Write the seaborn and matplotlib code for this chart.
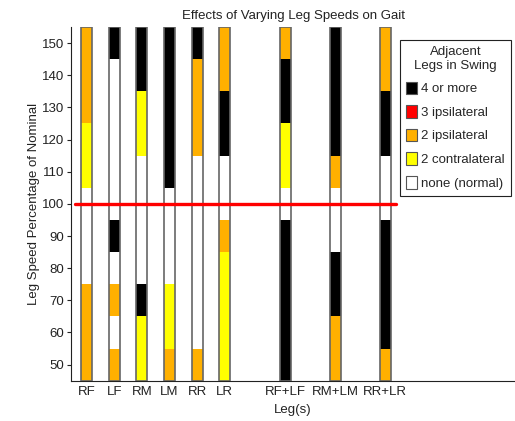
import matplotlib
matplotlib.use('Agg')
import matplotlib.pyplot as plt
import seaborn as sns
from matplotlib.patches import Patch

# Datos: cortes de velocidad (% del nominal) y tipo de marcha por segmento
legs = ['RF', 'LF', 'RM', 'LM', 'RR', 'LR', 'RF+LF', 'RM+LM', 'RR+LR']
x_pos = [1, 2, 3, 4, 5, 6, 8.2, 10, 11.8]

RF_breaks = [45, 75, 105, 125, 155]
RF_gait = ['2i', 'none', '2c', '2i']
LF_breaks = [45, 55, 65, 75, 85, 95, 145, 155]
LF_gait = ['2i', 'none', '2i', 'none', '4+', 'none', '4+']
RM_breaks = [45, 65, 75, 115, 135, 155]
RM_gait = ['2c', '4+', 'none', '2c', '4+']
LM_breaks = [45, 55, 75, 105, 155]
LM_gait = ['2i', '2c', 'none', '4+']
RR_breaks = [45, 55, 115, 145, 155]
RR_gait = ['2i', 'none', '2i', '4+']
LR_breaks = [45, 85, 95, 115, 135, 155]
LR_gait = ['2c', '2i', 'none', '4+', '2i']
RFLF_breaks = [45, 95, 105, 125, 145, 155]
RFLF_gait = ['4+', 'none', '2c', '4+', '2i']
RMLM_breaks = [45, 65, 85, 105, 115, 155]
RMLM_gait = ['2i', '4+', 'none', '2i', '4+']
RRLR_breaks = [45, 55, 95, 115, 135, 155]
RRLR_gait = ['2i', '4+', 'none', '4+', '2i']

all_breaks = [RF_breaks, LF_breaks, RM_breaks, LM_breaks, RR_breaks,
              LR_breaks, RFLF_breaks, RMLM_breaks, RRLR_breaks]
all_gait = [RF_gait, LF_gait, RM_gait, LM_gait, RR_gait,
            LR_gait, RFLF_gait, RMLM_gait, RRLR_gait]

gait_keys = ['4+', '3i', '2i', '2c', 'none']
gait_labels = ['4 or more', '3 ipsilateral', '2 ipsilateral',
               '2 contralateral', 'none (normal)']
gait_colors = {'4+': '#000000', '3i': '#ff0000', '2i': '#ffb000',
               '2c': '#ffff00', 'none': '#ffffff'}
nominal = 100

sns.set_theme(style="white")
plt.rcParams['font.family'] = ['Liberation Sans', 'DejaVu Sans']

fig = plt.figure(figsize=(5.15, 4.21), dpi=100)
ax = fig.add_axes([71 / 515, 40.3 / 421, 444 / 515, 353.7 / 421])

width = 0.4
for x, brk, gait in zip(x_pos, all_breaks, all_gait):
    for lo, hi, g in zip(brk[:-1], brk[1:], gait):
        ax.bar(x, hi - lo, bottom=lo, width=width, color=gait_colors[g],
               edgecolor='none', linewidth=0, zorder=2)
    ax.bar(x, brk[-1] - brk[0], bottom=brk[0], width=width, color='none',
           edgecolor='#666666', linewidth=1.2, zorder=3)

ax.plot([0.6, 12.2], [nominal, nominal], color='#ff0000', linewidth=2.4,
        zorder=4)

ax.set_xlim(0.44, 16.5)
ax.set_ylim(45, 155)
ax.set_yticks(range(50, 151, 10))
ax.set_xticks(x_pos)
ax.set_xticklabels(legs)
ax.tick_params(axis='x', length=0, pad=4, labelsize=9.5, colors='#222222')
ax.tick_params(axis='y', length=3, width=0.8, direction='out', pad=2,
               labelsize=9.5, colors='#222222', left=True)
for side in ['top', 'right']:
    ax.spines[side].set_visible(False)
for side in ['left', 'bottom']:
    ax.spines[side].set_color('#222222')
    ax.spines[side].set_linewidth(0.8)

ax.set_title('Effects of Varying Leg Speeds on Gait', fontsize=9.5,
             color='#222222', pad=6)
ax.set_xlabel('Leg(s)', fontsize=9.5, color='#222222', labelpad=4)
ax.set_ylabel('Leg Speed Percentage of Nominal', fontsize=9.5,
              color='#222222', labelpad=1)

handles = [Patch(facecolor=gait_colors[k], edgecolor='#555555', linewidth=0.8)
           for k in gait_keys]
leg = ax.legend(handles, gait_labels, title='Adjacent\nLegs in Swing',
                loc='upper left', bbox_to_anchor=(400 / 515, 1 - 40 / 421),
                bbox_transform=fig.transFigure, borderaxespad=0,
                fontsize=9.5, title_fontsize=9.5, frameon=True, fancybox=False,
                handlelength=0.85, handleheight=1.1, handletextpad=0.3,
                labelspacing=0.74, borderpad=0.45, framealpha=1)
leg.get_frame().set_edgecolor('#222222')
leg.get_frame().set_linewidth(0.8)
leg.get_title().set_multialignment('center')

plt.savefig('out.png', dpi=100)
